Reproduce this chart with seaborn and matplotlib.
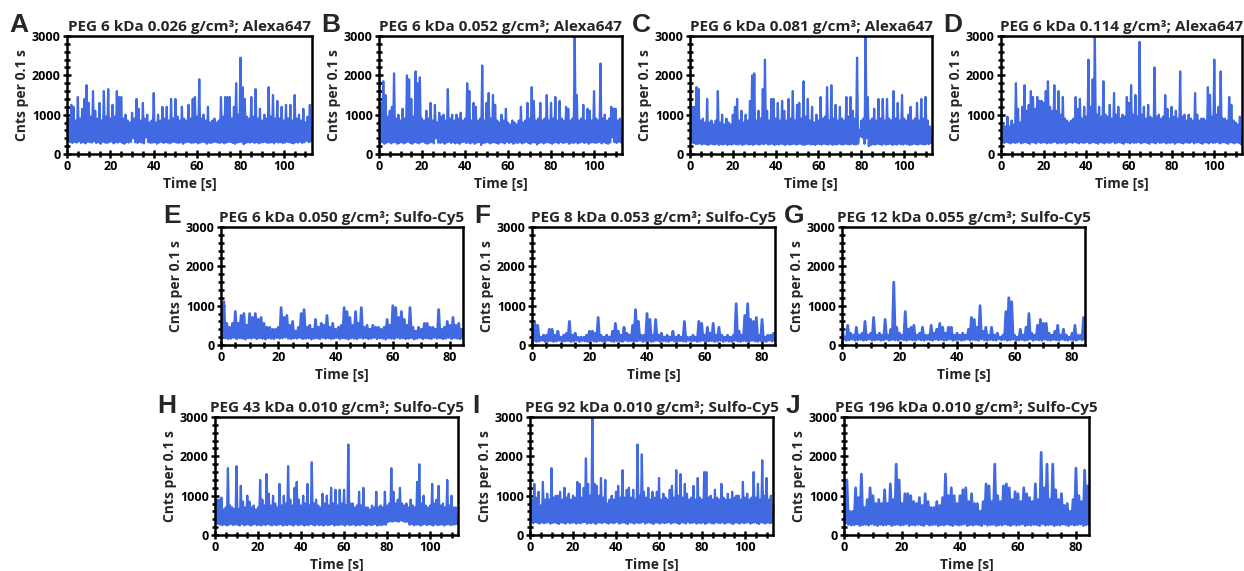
import numpy as np
import matplotlib
matplotlib.use("Agg")
import matplotlib.pyplot as plt
import seaborn as sns
from matplotlib.ticker import MultipleLocator

# photon counts per 0.1 s bin at ~1 s steps:
# "peaks" = upper edge of the trace, "lows" = lower edge half a second later

titles = [
    "PEG 6 kDa 0.026 g/cm³; Alexa647",
    "PEG 6 kDa 0.052 g/cm³; Alexa647",
    "PEG 6 kDa 0.081 g/cm³; Alexa647",
    "PEG 6 kDa 0.114 g/cm³; Alexa647",
    "PEG 6 kDa 0.050 g/cm³; Sulfo-Cy5",
    "PEG 8 kDa 0.053 g/cm³; Sulfo-Cy5",
    "PEG 12 kDa 0.055 g/cm³; Sulfo-Cy5",
    "PEG 43 kDa 0.010 g/cm³; Sulfo-Cy5",
    "PEG 92 kDa 0.010 g/cm³; Sulfo-Cy5",
    "PEG 196 kDa 0.010 g/cm³; Sulfo-Cy5",
]
letters = ["A", "B", "C", "D", "E", "F", "G", "H", "I", "J"]
duration = [113, 113, 113, 113, 84.5, 84.5, 84.5, 113, 113, 84.5]

peaks_A = [1100, 900, 1250, 1200, 850, 1450, 900, 1150, 1400, 1750,
           1300, 950, 1600, 1100, 900, 1300, 850, 1600, 950, 1650,
           900, 1250, 950, 1600, 1450, 1450, 900, 1000, 850, 800,
           1050, 900, 1400, 1150, 850, 1300, 900, 1000, 800, 850,
           1550, 800, 1000, 850, 1200, 900, 1200, 850, 1400, 900,
           1400, 950, 850, 1200, 900, 850, 1250, 900, 1400, 1450,
           950, 1900, 900, 1000, 850, 1200, 800, 850, 900, 800,
           850, 1450, 950, 1450, 1450, 1450, 900, 1200, 1800, 1000,
           2450, 1700, 1400, 950, 900, 1450, 950, 1650, 900, 1150,
           850, 1000, 900, 1700, 950, 1500, 900, 1350, 900, 1200,
           850, 1250, 900, 1250, 850, 1500, 900, 1000, 850, 1150,
           800, 950, 1250]
lows_A = [330, 300, 280, 310, 290, 320, 280, 300, 270, 310,
          300, 290, 320, 280, 300, 260, 310, 290, 280, 300,
          320, 270, 300, 290, 310, 280, 260, 300, 290, 310,
          400, 300, 280, 310, 290, 270, 420, 300, 280, 290,
          300, 260, 290, 310, 280, 300, 290, 270, 300, 310,
          290, 280, 300, 260, 290, 310, 300, 280, 290, 300,
          270, 290, 310, 300, 260, 290, 280, 300, 310, 290,
          280, 300, 270, 290, 310, 300, 280, 260, 290, 300,
          310, 250, 280, 300, 290, 310, 280, 300, 270, 290,
          300, 310, 280, 290, 300, 270, 310, 290, 300, 280,
          290, 310, 300, 280, 270, 300, 290, 310, 280, 300,
          340, 300, 320]

peaks_B = [1900, 1300, 1850, 1500, 950, 1100, 1200, 2050, 900, 1000,
           850, 1150, 900, 2000, 1900, 1400, 950, 2100, 1800, 1950,
           900, 850, 1100, 900, 1300, 850, 1250, 800, 1050, 950,
           1000, 850, 1650, 900, 1000, 850, 1000, 900, 1050, 850,
           900, 1800, 1600, 850, 1300, 1200, 850, 900, 2250, 850,
           1300, 1550, 900, 1500, 1250, 850, 800, 1000, 850, 1150,
           800, 750, 850, 800, 750, 850, 1200, 800, 850, 1300,
           900, 1700, 1350, 850, 900, 1300, 850, 900, 1500, 850,
           1300, 900, 1450, 850, 1350, 900, 850, 1200, 1150, 850,
           900, 3000, 1500, 850, 900, 1250, 850, 1150, 1100, 850,
           1600, 900, 850, 2300, 900, 1000, 850, 900, 1200, 1150,
           1150, 850, 900]
lows_B = [280, 300, 260, 290, 310, 270, 290, 300, 260, 280,
          300, 270, 290, 310, 280, 260, 300, 290, 270, 300,
          310, 280, 260, 290, 300, 270, 400, 290, 280, 300,
          260, 290, 310, 280, 300, 270, 290, 260, 300, 310,
          280, 290, 270, 300, 260, 290, 300, 230, 280, 290,
          310, 270, 290, 300, 280, 260, 300, 290, 270, 310,
          280, 300, 260, 290, 280, 300, 270, 290, 310, 280,
          260, 300, 290, 240, 280, 300, 270, 290, 300, 280,
          260, 290, 300, 270, 310, 280, 290, 300, 260, 290,
          280, 300, 270, 290, 310, 280, 300, 260, 290, 300,
          280, 290, 310, 270, 300, 280, 260, 290, 420, 300,
          280, 310, 290]

peaks_C = [3000, 1200, 1200, 1700, 1650, 850, 900, 800, 1400, 800,
           850, 750, 850, 1600, 800, 1000, 750, 900, 800, 750,
           1000, 1200, 1400, 850, 1100, 800, 1000, 850, 1350, 2000,
           2050, 850, 1100, 900, 1650, 2400, 1100, 850, 1400, 1400,
           900, 1300, 850, 1350, 1100, 850, 1400, 900, 1600, 850,
           1250, 1300, 900, 1850, 950, 1400, 850, 1200, 800, 1000,
           850, 1450, 900, 950, 1700, 850, 1750, 900, 1250, 850,
           1200, 900, 850, 1450, 950, 1450, 1100, 900, 2450, 600,
           850, 900, 3000, 1450, 850, 900, 1150, 850, 1400, 900,
           1400, 850, 1400, 900, 850, 1600, 900, 1300, 850, 1500,
           900, 850, 1000, 1200, 850, 900, 1300, 850, 1400, 900,
           1450, 850, 700]
lows_C = [300, 280, 260, 250, 270, 240, 260, 250, 230, 260,
          250, 240, 260, 230, 250, 240, 260, 230, 250, 240,
          260, 250, 240, 260, 230, 250, 260, 240, 250, 230,
          260, 250, 240, 260, 250, 270, 240, 250, 260, 230,
          250, 240, 260, 250, 230, 260, 240, 250, 260, 240,
          250, 260, 240, 230, 250, 260, 240, 250, 230, 260,
          250, 240, 260, 250, 240, 260, 230, 250, 240, 260,
          250, 240, 260, 250, 240, 260, 250, 240, 260, 450,
          420, 260, 400, 200, 230, 250, 240, 260, 250, 230,
          260, 240, 250, 260, 230, 250, 240, 260, 250, 240,
          260, 250, 230, 240, 260, 250, 240, 260, 250, 240,
          260, 250, 280]

peaks_D = [1600, 750, 700, 950, 700, 850, 750, 1800, 1150, 800,
           1200, 1750, 1100, 1250, 1600, 1450, 1150, 1450, 1350, 1350,
           1300, 1600, 1850, 1200, 1100, 1750, 1100, 1600, 1000, 1450,
           900, 850, 800, 850, 900, 1450, 1150, 1400, 900, 1200,
           950, 2400, 1200, 1900, 3000, 1000, 1200, 950, 1850, 1000,
           950, 1250, 900, 1550, 1000, 1200, 900, 1000, 950, 1450,
           1300, 1750, 1000, 1500, 950, 2850, 1000, 1200, 900, 1250,
           950, 900, 2200, 950, 1000, 900, 950, 1500, 1150, 900,
           1200, 950, 1100, 900, 2100, 950, 1000, 850, 1000, 900,
           850, 1550, 1000, 850, 900, 900, 850, 1700, 1500, 950,
           2400, 1000, 1200, 2100, 900, 900, 850, 1450, 1250, 850,
           800, 750, 950]
lows_D = [300, 280, 310, 290, 270, 300, 280, 290, 310, 270,
          290, 300, 280, 260, 300, 290, 270, 310, 280, 290,
          300, 270, 290, 280, 300, 310, 270, 290, 280, 300,
          260, 290, 300, 280, 310, 290, 270, 300, 280, 290,
          310, 270, 290, 300, 280, 260, 300, 290, 270, 300,
          280, 290, 310, 270, 290, 300, 280, 260, 300, 290,
          270, 300, 280, 290, 310, 270, 290, 300, 280, 260,
          300, 290, 270, 310, 280, 290, 300, 270, 290, 280,
          300, 260, 290, 300, 280, 270, 300, 290, 280, 310,
          270, 290, 300, 280, 260, 300, 290, 270, 300, 280,
          290, 310, 270, 290, 300, 280, 260, 300, 290, 270,
          300, 280, 250]

peaks_E = [500, 1100, 550, 450, 550, 850, 550, 750, 800, 500,
           800, 700, 800, 650, 700, 550, 450, 450, 400, 400,
           450, 950, 700, 750, 500, 600, 350, 450, 800, 900,
           450, 500, 400, 650, 450, 550, 500, 750, 450, 550,
           400, 450, 500, 950, 850, 700, 500, 850, 550, 950,
           450, 500, 400, 500, 450, 450, 400, 450, 650, 500,
           1000, 950, 700, 850, 650, 500, 950, 450, 350, 450,
           400, 550, 550, 450, 450, 400, 900, 400, 450, 600,
           500, 700, 500, 550, 400]
lows_E = [200, 180, 160, 170, 190, 160, 180, 170, 150, 180,
          170, 190, 160, 180, 170, 150, 180, 170, 160, 190,
          170, 180, 200, 170, 160, 180, 170, 190, 160, 170,
          180, 150, 170, 180, 160, 190, 170, 180, 160, 170,
          190, 160, 180, 170, 150, 180, 170, 160, 190, 170,
          180, 160, 170, 190, 160, 180, 170, 150, 180, 170,
          160, 190, 170, 180, 160, 170, 180, 150, 170, 190,
          160, 180, 170, 160, 190, 170, 180, 160, 170, 190,
          160, 180, 170, 160, 180]

peaks_F = [300, 550, 500, 200, 250, 250, 400, 400, 250, 350,
           200, 250, 300, 600, 250, 300, 200, 200, 200, 250,
           350, 350, 300, 700, 250, 200, 250, 200, 350, 550,
           350, 250, 450, 300, 250, 500, 900, 600, 250, 250,
           800, 650, 250, 650, 250, 300, 200, 250, 200, 350,
           200, 250, 200, 600, 200, 200, 250, 200, 600, 550,
           250, 450, 300, 550, 250, 450, 250, 200, 250, 200,
           250, 1050, 350, 250, 750, 1050, 650, 600, 700, 250,
           650, 200, 250, 250, 300]
lows_F = [110, 90, 100, 120, 90, 100, 110, 90, 100, 120,
          90, 100, 110, 90, 100, 120, 90, 110, 100, 90,
          120, 100, 90, 110, 100, 90, 120, 100, 90, 110,
          100, 90, 120, 100, 110, 90, 100, 120, 90, 100,
          110, 90, 100, 120, 90, 110, 100, 90, 120, 100,
          90, 110, 100, 90, 120, 100, 110, 90, 100, 120,
          90, 100, 110, 90, 100, 120, 90, 110, 100, 90,
          120, 100, 90, 110, 100, 90, 120, 100, 90, 110,
          100, 90, 120, 100, 110]

peaks_G = [650, 200, 500, 300, 250, 450, 250, 300, 600, 250,
           300, 700, 250, 300, 250, 650, 250, 400, 1600, 450,
           300, 250, 850, 400, 450, 500, 250, 300, 450, 250,
           250, 500, 300, 400, 550, 450, 300, 450, 450, 250,
           300, 250, 300, 250, 400, 700, 650, 450, 1000, 350,
           450, 250, 450, 250, 300, 200, 250, 850, 1200, 1100,
           250, 200, 400, 250, 450, 800, 300, 250, 500, 650,
           550, 550, 300, 250, 350, 500, 250, 400, 250, 200,
           300, 500, 250, 250, 700]
lows_G = [140, 120, 130, 150, 120, 130, 140, 120, 130, 150,
          120, 130, 140, 120, 130, 150, 120, 140, 130, 120,
          150, 130, 120, 140, 130, 120, 150, 130, 120, 140,
          130, 120, 150, 130, 140, 120, 130, 150, 120, 130,
          140, 120, 130, 150, 120, 140, 130, 120, 150, 130,
          120, 140, 130, 120, 150, 130, 140, 120, 130, 150,
          120, 130, 140, 120, 130, 150, 120, 140, 130, 120,
          150, 130, 120, 140, 130, 120, 150, 130, 120, 140,
          130, 120, 150, 130, 140]

peaks_H = [750, 900, 900, 950, 650, 700, 1700, 750, 700, 650,
           1750, 650, 1250, 850, 700, 1000, 850, 700, 750, 650,
           700, 1400, 900, 750, 1550, 1050, 750, 1000, 800, 700,
           1300, 750, 1000, 800, 1750, 900, 750, 1200, 1350, 900,
           750, 1000, 800, 1300, 750, 1850, 800, 900, 750, 700,
           1050, 800, 1000, 750, 1200, 800, 1150, 750, 1150, 800,
           1150, 750, 2300, 800, 800, 700, 750, 1100, 750, 1200,
           700, 700, 650, 750, 700, 1100, 700, 750, 700, 1100,
           750, 800, 1700, 1100, 800, 900, 1200, 800, 750, 800,
           700, 900, 750, 700, 1350, 1800, 800, 1000, 750, 700,
           750, 1300, 800, 900, 1250, 750, 800, 700, 1400, 750,
           1000, 700, 700]
lows_H = [300, 280, 260, 250, 270, 240, 260, 280, 250, 270,
          260, 240, 280, 250, 260, 270, 240, 260, 280, 250,
          260, 240, 270, 250, 280, 260, 240, 270, 250, 260,
          280, 240, 260, 250, 270, 260, 240, 280, 250, 260,
          270, 240, 260, 250, 280, 260, 240, 270, 250, 260,
          240, 270, 250, 260, 280, 240, 260, 250, 270, 260,
          240, 280, 250, 260, 270, 240, 260, 250, 280, 260,
          240, 270, 250, 260, 280, 240, 260, 250, 270, 260,
          330, 350, 340, 360, 350, 340, 370, 350, 330, 340,
          260, 280, 250, 260, 270, 240, 260, 280, 250, 270,
          260, 240, 280, 250, 260, 270, 240, 260, 280, 250,
          260, 270, 280]

peaks_I = [800, 900, 1300, 950, 1100, 750, 1350, 900, 1050, 900,
           1700, 950, 1000, 1000, 1100, 900, 1200, 950, 1050, 900,
           1000, 950, 1350, 1300, 950, 1200, 1950, 1300, 1000, 3000,
           1300, 1250, 1000, 1450, 950, 1400, 800, 900, 1000, 900,
           1100, 1250, 950, 1650, 950, 1150, 1200, 950, 1150, 900,
           2300, 1000, 2050, 1100, 950, 1200, 900, 1100, 950, 1100,
           1450, 900, 1050, 950, 900, 1150, 1250, 950, 1650, 1000,
           1550, 950, 1300, 1050, 900, 950, 1250, 900, 1450, 950,
           900, 1600, 1600, 950, 1000, 900, 1150, 950, 900, 1300,
           950, 900, 1050, 900, 1100, 950, 1000, 1000, 900, 1350,
           950, 1050, 900, 950, 1600, 950, 1300, 900, 1900, 1000,
           1450, 900, 1000]
lows_I = [320, 300, 330, 310, 290, 320, 300, 310, 330, 290,
          310, 320, 300, 280, 320, 310, 290, 330, 300, 310,
          320, 290, 310, 300, 320, 330, 290, 310, 300, 320,
          280, 310, 320, 300, 330, 310, 290, 320, 300, 310,
          330, 290, 310, 320, 300, 280, 320, 310, 290, 320,
          300, 310, 330, 290, 310, 320, 300, 280, 320, 310,
          290, 320, 300, 310, 330, 290, 310, 320, 300, 280,
          320, 310, 290, 330, 300, 310, 320, 290, 310, 300,
          320, 280, 310, 320, 300, 290, 320, 310, 300, 330,
          290, 310, 320, 300, 280, 320, 310, 290, 320, 300,
          310, 330, 290, 310, 320, 300, 280, 320, 310, 290,
          320, 300, 310]

peaks_J = [1000, 1400, 600, 600, 1200, 950, 1550, 700, 900, 1200,
           1000, 800, 900, 800, 1150, 800, 1300, 900, 1800, 1400,
           800, 1050, 1050, 1000, 850, 800, 950, 750, 1050, 850,
           700, 700, 850, 750, 950, 1550, 1000, 1200, 1000, 800,
           1000, 1150, 1200, 850, 1050, 800, 800, 600, 850, 1300,
           1250, 850, 1800, 1000, 850, 1250, 1300, 1200, 900, 1100,
           1050, 850, 1200, 1050, 950, 850, 1300, 900, 2100, 1200,
           1800, 900, 1800, 1150, 900, 1050, 750, 800, 600, 900,
           1700, 1000, 850, 1650, 1250]
lows_J = [300, 270, 250, 260, 280, 240, 260, 270, 250, 280,
          260, 240, 270, 250, 260, 280, 240, 260, 270, 250,
          260, 280, 240, 260, 250, 270, 260, 240, 280, 250,
          260, 270, 240, 260, 250, 280, 260, 240, 270, 250,
          260, 280, 240, 260, 250, 270, 260, 240, 280, 250,
          260, 270, 240, 260, 250, 280, 260, 240, 270, 250,
          260, 280, 240, 260, 250, 270, 260, 240, 280, 250,
          260, 270, 240, 260, 250, 280, 260, 240, 270, 250,
          260, 280, 240, 260, 270]

peaks = [peaks_A, peaks_B, peaks_C, peaks_D, peaks_E,
         peaks_F, peaks_G, peaks_H, peaks_I, peaks_J]
lows = [lows_A, lows_B, lows_C, lows_D, lows_E,
        lows_F, lows_G, lows_H, lows_I, lows_J]

# axes boxes in pixels: left, top, width, height (figure is 1244 x 571)
boxes = [(67, 36, 245, 118), (379, 36, 243, 118), (690, 36, 242, 118), (1001, 36, 241, 118),
         (221, 227, 242, 118), (532, 227, 243, 118), (842, 227, 243, 118),
         (215, 417, 243, 118), (530, 417, 243, 118), (844, 417, 245, 118)]

W, H = 1244, 571


def draw_panel(fig, box, letter, title, up, lo, tmax):
    left, top, w, h = box
    ax = fig.add_axes([left / W, (H - top - h) / H, w / W, h / H])

    t = []
    c = []
    for i, (u, l) in enumerate(zip(up, lo)):
        t += [i, i + 0.5]
        c += [u, l]
    # shorter recordings are stretched wider, so use a thicker line to keep the band solid
    lw = 1.6 if tmax > 100 else 2.0
    sns.lineplot(x=t, y=c, ax=ax, color="royalblue", linewidth=lw,
                 estimator=None, sort=False)

    ax.set_xlim(0, tmax)
    ax.set_ylim(0, 3000)
    ax.xaxis.set_major_locator(MultipleLocator(20))
    ax.xaxis.set_minor_locator(MultipleLocator(5))
    ax.yaxis.set_major_locator(MultipleLocator(1000))
    ax.yaxis.set_minor_locator(MultipleLocator(200))
    ax.tick_params(which="major", direction="inout", length=6, width=1.8,
                   labelsize=9, pad=1.5)
    ax.tick_params(which="minor", direction="inout", length=5, width=1.8)
    for s in ax.spines.values():
        s.set_linewidth(1.8)

    ax.set_xlabel("Time [s]", fontsize=10, labelpad=2.5)
    ax.set_ylabel("Cnts per 0.1 s", fontsize=10, labelpad=2)
    ax.set_title(title, fontsize=11, pad=3.5)

    fig.text((left - 58) / W, (H - top + 4) / H, letter, fontsize=19,
             fontweight="bold", family="Liberation Sans",
             ha="left", va="baseline")


def main():
    sns.set_style("ticks")
    plt.rcParams["font.family"] = ["Open Sans", "DejaVu Sans"]
    plt.rcParams["font.weight"] = "bold"
    plt.rcParams["axes.labelweight"] = "bold"
    plt.rcParams["axes.titleweight"] = "bold"
    plt.rcParams["axes.edgecolor"] = "black"
    plt.rcParams["xtick.color"] = "black"
    plt.rcParams["ytick.color"] = "black"

    fig = plt.figure(figsize=(12.44, 5.71), dpi=100)
    for k in range(10):
        draw_panel(fig, boxes[k], letters[k], titles[k], peaks[k], lows[k], duration[k])
    fig.savefig("out.png", dpi=100, facecolor="white")


if __name__ == "__main__":
    main()
